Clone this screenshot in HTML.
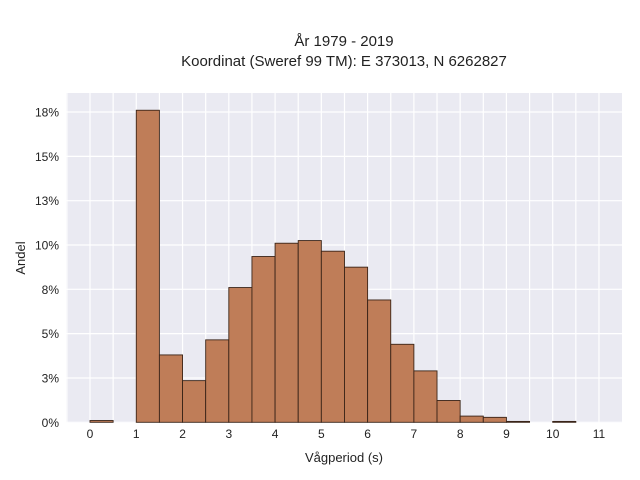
<!DOCTYPE html>
<html><head><meta charset="utf-8"><style>
html,body{margin:0;padding:0;background:#fff;}
svg{display:block;font-family:"Liberation Sans",sans-serif;}
</style></head><body>
<svg id="chart" width="640" height="480">
<text x="344" y="46" text-anchor="middle" font-size="15" fill="#222">År 1979 - 2019</text>
<text x="344" y="66" text-anchor="middle" font-size="15" fill="#222">Koordinat (Sweref 99 TM): E 373013, N 6262827</text>
<rect x="66" y="93" width="556" height="330" fill="#eaeaf2"/>
<g id="grid"></g><g id="bars"></g><g id="ticks"></g>
<text x="344" y="462" text-anchor="middle" font-size="13" fill="#222">Vågperiod (s)</text>
<text x="25" y="258" text-anchor="middle" font-size="13" fill="#222" transform="rotate(-90 25 258)">Andel</text>
</svg>
<script>
const binStarts=[0,0.5,1,1.5,2,2.5,3,3.5,4,4.5,5,5.5,6,6.5,7,7.5,8,8.5,9,9.5,10,10.5];
const shares=[0.1,0,17.6,3.8,2.35,4.65,7.6,9.35,10.1,10.25,9.65,8.75,6.9,4.4,2.9,1.23,0.35,0.28,0.05,0,0.05,0];
const xTicks=[0,1,2,3,4,5,6,7,8,9,10,11];
const yTicks=[0,2.5,5,7.5,10,12.5,15,17.5];
const binWidth=0.5;
const NS="http://www.w3.org/2000/svg";
const xs=v=>90+v*46.27;
const ys=v=>422.3-v*17.73;
const grid=document.getElementById('grid'),bars=document.getElementById('bars'),ticks=document.getElementById('ticks');
function mk(tag,attrs,parent){const e=document.createElementNS(NS,tag);for(const k in attrs)e.setAttribute(k,attrs[k]);parent.appendChild(e);return e;}
for(let v=-0.5;v<=11.5;v+=0.5){const x=xs(v);if(x<66||x>622)continue;
 const l=mk('line',{x1:x,x2:x,y1:93,y2:423,stroke:'#fff','stroke-width':1.2},grid);
 
 }
yTicks.forEach(v=>{const y=ys(v);
 const l=mk('line',{x1:66,x2:622,y1:y,y2:y,stroke:'#fff','stroke-width':1.2},grid);
 
 
 const t=mk('text',{x:59,y:y+4.5,'text-anchor':'end','font-size':12,fill:'#222'},ticks);
 t.textContent=Math.round(v)+'%';
 
 });
xTicks.forEach(v=>{const t=mk('text',{x:xs(v),y:438,'text-anchor':'middle','font-size':12,fill:'#222'},ticks);
 t.textContent=v;
 
 });
binStarts.forEach((b,i)=>{const v=shares[i];if(v<=0)return;
 const x0=xs(b),x1=xs(b+binWidth),y=ys(v);
 const r=mk('rect',{x:x0,y:y,width:x1-x0,height:ys(0)-y,fill:'#bf7d58',stroke:'#3a2418','stroke-width':0.9},bars);
 
 });
</script>
</body></html>
